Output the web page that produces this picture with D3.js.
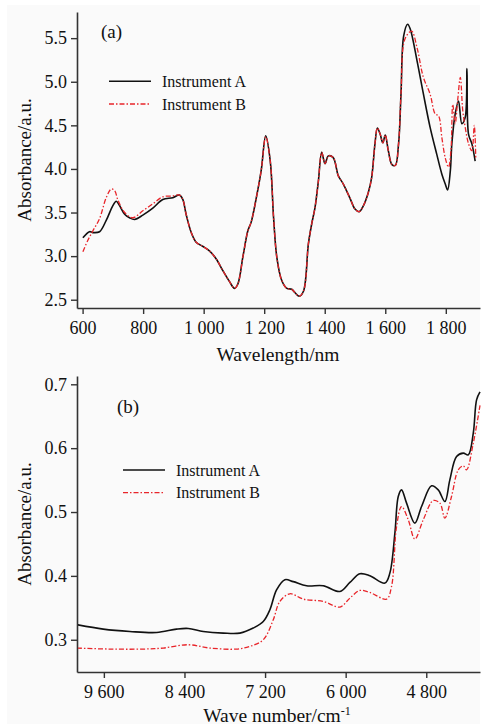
<!DOCTYPE html>
<html><head><meta charset="utf-8">
<script src="https://cdn.jsdelivr.net/npm/d3@7"></script>
</head>
<body style="margin:0;background:#fff">
<svg id="chart" width="483" height="728"></svg>
<script>
// ---- Panel (a) data: wavelength (nm) vs absorbance
const wlA = [601,623,634,656,678,700,711,722,739,755,772,799,832,865,898,920,931,942,959,975,998,1019,1041,1064,1085,1102,1113,1130,1146,1157,1174,1190,1205,1220,1231,1242,1258,1275,1291,1302,1316,1330,1346,1357,1368,1379,1390,1401,1412,1428,1445,1461,1484,1500,1514,1528,1544,1555,1566,1574,1583,1592,1600,1610,1622,1633,1644,1652,1661,1674,1683,1705,1726,1748,1770,1787,1798,1806,1815,1820,1831,1842,1853,1864,1870,1875,1886,1897];
const absA = [3.21,3.28,3.27,3.28,3.41,3.58,3.63,3.58,3.48,3.44,3.42,3.47,3.55,3.65,3.67,3.70,3.65,3.48,3.27,3.16,3.11,3.06,2.97,2.83,2.71,2.63,2.68,3.00,3.29,3.39,3.67,3.98,4.38,4.09,3.44,2.98,2.72,2.63,2.62,2.58,2.54,2.60,3.14,3.37,3.56,3.86,4.19,4.06,4.15,4.13,3.92,3.83,3.66,3.54,3.51,3.58,3.73,3.90,4.29,4.47,4.40,4.30,4.39,4.21,4.05,4.04,4.29,4.86,5.53,5.66,5.60,5.24,4.86,4.48,4.17,3.94,3.83,3.76,3.98,4.29,4.63,4.78,4.52,4.59,5.15,4.40,4.29,4.09];
const wlB = [601,617,634,656,678,695,706,717,739,766,799,832,865,898,920,931,942,959,975,998,1019,1041,1064,1085,1102,1113,1130,1146,1157,1174,1190,1205,1220,1231,1242,1258,1275,1291,1302,1316,1330,1346,1357,1368,1379,1390,1401,1412,1428,1445,1461,1484,1500,1514,1528,1544,1555,1566,1574,1583,1592,1600,1610,1622,1633,1644,1652,1665,1687,1705,1726,1748,1765,1776,1787,1798,1809,1817,1823,1831,1839,1848,1856,1864,1875,1886,1894,1899];
const absB = [3.05,3.18,3.29,3.43,3.67,3.77,3.75,3.64,3.50,3.44,3.52,3.60,3.68,3.69,3.70,3.65,3.48,3.27,3.16,3.11,3.06,2.97,2.83,2.71,2.63,2.68,3.00,3.29,3.39,3.67,3.98,4.37,4.09,3.44,2.98,2.72,2.63,2.62,2.58,2.54,2.60,3.14,3.37,3.56,3.86,4.19,4.06,4.15,4.13,3.92,3.83,3.66,3.54,3.51,3.58,3.73,3.90,4.29,4.47,4.40,4.30,4.39,4.21,4.05,4.04,4.29,4.86,5.49,5.58,5.39,5.05,4.86,4.63,4.61,4.36,4.13,4.02,4.21,4.74,4.52,4.78,5.05,4.67,4.48,4.29,4.21,4.50,4.13];
const ticksA_x = [600,800,1000,1200,1400,1600,1800];
const ticksA_y = [2.5,3.0,3.5,4.0,4.5,5.0,5.5];

// ---- Panel (b) data: wave number (cm-1) vs absorbance
const wnA = [10000,9609,9213,8815,8518,8343,8120,7822,7575,7376,7227,7128,7029,6905,6780,6582,6334,6086,5937,5789,5640,5416,5342,5267,5217,5168,5093,4970,4870,4721,4622,4523,4449,4349,4249,4175,4100,4051,4000];
const absWA = [0.3235,0.3167,0.313,0.3114,0.3167,0.3177,0.313,0.3104,0.3104,0.3183,0.3286,0.347,0.378,0.394,0.391,0.3845,0.3845,0.3756,0.3897,0.4033,0.4002,0.3887,0.4044,0.467,0.5243,0.5347,0.5139,0.4826,0.5086,0.541,0.5347,0.5164,0.5504,0.5868,0.5922,0.5895,0.6235,0.6756,0.688];
const wnB = [10000,9510,9013,8716,8343,8022,7624,7426,7227,7078,6980,6831,6632,6334,6086,5937,5789,5640,5391,5317,5242,5168,5068,4970,4845,4696,4597,4523,4424,4324,4249,4200,4100,4000];
const absWB = [0.287,0.2854,0.2854,0.287,0.2922,0.287,0.2854,0.2896,0.300,0.3313,0.360,0.372,0.3637,0.360,0.3512,0.3652,0.3772,0.374,0.3637,0.3834,0.4773,0.5086,0.4878,0.4576,0.4878,0.518,0.5139,0.4905,0.5243,0.566,0.5723,0.566,0.6078,0.667];
const ticksB_x = [9600,8400,7200,6000,4800];
const ticksB_y = [0.3,0.4,0.5,0.6,0.7];

const seriesNames = ["Instrument A","Instrument B"];
const colors = ["#111111","#e8252a"];
const dashes = [null,"5,2,1.5,2"];
const FONT = "'Liberation Serif'";

const svg = d3.select("#chart");
svg.append("rect").attr("x",7).attr("y",5).attr("width",473).attr("height",719).attr("fill","#fafafa");

const fmt = d => d3.format(",")(d).replace(/,/g," ");

function panel(cfg){
  const x = d3.scaleLinear().domain(cfg.xd).range([77,480]);
  const y = d3.scaleLinear().domain(cfg.yd).range([cfg.bottom,cfg.top]);
  const g = svg.append("g");
  const xa = g.append("g").attr("transform",`translate(0,${cfg.bottom})`)
    .call(d3.axisBottom(x).tickValues(cfg.xt).tickFormat(fmt).tickSize(6).tickSizeOuter(0));
  const ya = g.append("g").attr("transform","translate(77,0)")
    .call(d3.axisLeft(y).tickValues(cfg.yt).tickFormat(cfg.yf).tickSize(6).tickSizeOuter(0));
  [xa,ya].forEach(a=>{
    a.select(".domain").attr("stroke","#333").attr("stroke-width",1.6);
    a.selectAll(".tick line").attr("stroke","#333").attr("stroke-width",1.4);
    a.selectAll(".tick text").attr("font-size",18).attr("fill","#111")
      .style("font-family",FONT);
  });
  xa.selectAll(".tick text").attr("dy","0.95em");
  ya.selectAll(".tick text").attr("dx","-1");
  const line = d3.line().x(d=>x(d[0])).y(d=>y(d[1])).curve(d3.curveCatmullRom.alpha(0.5));
  const clipId = "clip"+cfg.id;
  svg.append("clipPath").attr("id",clipId).append("rect")
    .attr("x",78).attr("y",cfg.top-10).attr("width",405).attr("height",cfg.bottom-cfg.top+9);
  cfg.series.forEach((s,i)=>{
    g.append("path").datum(d3.zip(s[0],s[1])).attr("d",line)
      .attr("fill","none").attr("stroke",colors[i]).attr("stroke-width",i?1.3:1.6)
      .attr("stroke-dasharray",dashes[i]).attr("clip-path",`url(#${clipId})`);
  });
  seriesNames.forEach((n,i)=>{
    const ly = cfg.leg[1]+i*22.7;
    g.append("line").attr("x1",cfg.leg[0]).attr("x2",cfg.leg[0]+42).attr("y1",ly).attr("y2",ly)
      .attr("stroke",colors[i]).attr("stroke-width",i?1.3:1.6).attr("stroke-dasharray",dashes[i]);
    g.append("text").attr("x",cfg.leg[0]+53).attr("y",ly+5.5).attr("font-size",16)
      .style("font-family",FONT).attr("fill","#111").text(n);
  });
  g.append("text").attr("x",cfg.lab[0]).attr("y",cfg.lab[1]).attr("font-size",19)
    .style("font-family",FONT).attr("fill","#111").text(cfg.label);
  g.append("text").attr("transform",`translate(31,${(cfg.top+cfg.bottom)/2}) rotate(-90)`)
    .attr("text-anchor","middle").attr("font-size",19).style("font-family",FONT).attr("fill","#111")
    .text("Absorbance/a.u.");
  return g;
}

panel({id:"a",xd:[581.5,1913],yd:[2.405,5.8],top:12,bottom:308,xt:ticksA_x,yt:ticksA_y,
  yf:d3.format(".1f"),series:[[wlA,absA],[wlB,absB]],leg:[109,81.3],lab:[101,38],label:"(a)"});
svg.append("text").attr("x",278).attr("y",361).attr("text-anchor","middle").attr("font-size",19.5)
  .style("font-family",FONT).attr("fill","#111").text("Wavelength/nm");

panel({id:"b",xd:[10000,4000],yd:[0.2495,0.713],top:376,bottom:672,xt:ticksB_x,yt:ticksB_y,
  yf:d3.format(".1f"),series:[[wnA,absWA],[wnB,absWB]],leg:[123,470],lab:[117,413],label:"(b)"});
const xt = svg.append("text").attr("x",277).attr("y",722).attr("text-anchor","middle").attr("font-size",19.5)
  .style("font-family",FONT).attr("fill","#111");
xt.append("tspan").text("Wave number/cm");
xt.append("tspan").attr("dy",-7).attr("font-size",12).text("-1");
</script>
</body></html>
